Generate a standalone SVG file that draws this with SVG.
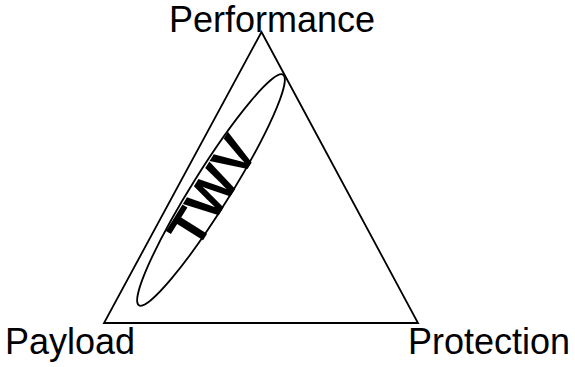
<svg xmlns="http://www.w3.org/2000/svg" width="575" height="367" viewBox="0 0 575 367">
<style>
.l{font-family:"Liberation Sans",Arial,sans-serif;font-size:36px;fill:#000}
.t{font-family:"Liberation Sans",Arial,sans-serif;font-size:53px;font-weight:bold;fill:#000}
.s{fill:none;stroke:#000;stroke-width:1.8}
</style>
<rect width="575" height="367" fill="#fff"/>
<g id="triangle"><polygon class="s" points="261.5,32 104,323 418,323"/></g>
<g id="twv">
<ellipse class="s" cx="211" cy="190" rx="136" ry="19" transform="rotate(-58 211 190)"/>
<text class="t" x="212" y="191" text-anchor="middle" dominant-baseline="central" transform="rotate(-58 212 191)">TWV</text>
</g>
<g id="performance"><text class="l" x="272" y="32" text-anchor="middle">Performance</text></g>
<g id="payload"><text class="l" x="5" y="354">Payload</text></g>
<g id="protection"><text class="l" x="408" y="354">Protection</text></g>
</svg>
